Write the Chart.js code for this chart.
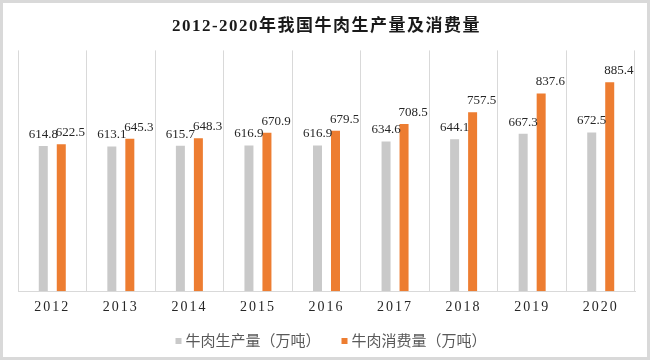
<!DOCTYPE html>
<html>
<head>
<meta charset="utf-8">
<script src="https://cdn.jsdelivr.net/npm/chart.js@4/dist/chart.umd.min.js"></script>
<style>
  html, body { margin: 0; padding: 0; background: #fff; }
  #wrap { width: 650px; height: 360px; }
</style>
</head>
<body>
<div id="wrap"><canvas id="chart" width="650" height="360"></canvas></div>
<script>
const years = ['2012', '2013', '2014', '2015', '2016', '2017', '2018', '2019', '2020'];
const production = [614.8, 613.1, 615.7, 616.9, 616.9, 634.6, 644.1, 667.3, 672.5];
const consumption = [622.5, 645.3, 648.3, 670.9, 679.5, 708.5, 757.5, 837.6, 885.4];

const serif = '"Liberation Serif", "Times New Roman", "Noto Sans CJK SC", serif';
const cjk = '"Noto Sans CJK SC", "Liberation Serif", sans-serif';

// outer frame like the exported picture
const framePlugin = {
    id: 'frame',
    beforeDraw(chart) {
        const ctx = chart.ctx;
        ctx.save();
        ctx.fillStyle = '#ffffff';
        ctx.fillRect(0, 0, chart.width, chart.height);
        ctx.strokeStyle = '#d9d9d9';
        ctx.lineWidth = 3;
        ctx.strokeRect(1.5, 1.5, chart.width - 3, chart.height - 3);
        ctx.restore();
    },
};

// the title and year labels are letter-spaced in the original
function spaced(obj, method, spacing) {
    if (!obj || obj['_sp_' + method]) return;
    const orig = obj[method];
    obj[method] = function (...args) {
        const c = this.ctx;
        c.save();
        c.letterSpacing = spacing;
        orig.apply(this, args);
        c.restore();
    };
    obj['_sp_' + method] = true;
}

const spacingPlugin = {
    id: 'spacing',
    afterLayout(chart) {
        spaced(chart.titleBlock, 'draw', '1.5px');
        spaced(chart.scales.x, 'drawLabels', '2px');
    },
};

// value labels above each bar; the consumption labels start at the bar's
// left edge so they don't run into the production ones
const valueLabels = {
    id: 'valueLabels',
    afterDatasetsDraw(chart) {
        const ctx = chart.ctx;
        ctx.save();
        ctx.font = '13px ' + serif;
        ctx.fillStyle = '#262626';
        ctx.textBaseline = 'bottom';
        chart.data.datasets.forEach((ds, i) => {
            const meta = chart.getDatasetMeta(i);
            meta.data.forEach((bar, j) => {
                const txt = Number(ds.data[j]).toFixed(1);
                if (i === 0) {
                    ctx.textAlign = 'center';
                    ctx.fillText(txt, bar.x, bar.y - 5);
                } else {
                    ctx.textAlign = 'left';
                    ctx.fillText(txt, bar.x - bar.width / 2 - 1, bar.y - 5);
                }
            });
        });
        ctx.restore();
    },
};

// legend drawn by hand: small squares, tight gap to the text
const legendPlugin = {
    id: 'bottomLegend',
    afterDraw(chart) {
        const ctx = chart.ctx;
        const box = 6, gap = 4, itemGap = 21;
        ctx.save();
        ctx.font = '15px ' + cjk;
        ctx.textBaseline = 'middle';
        const items = chart.data.datasets.map((ds) => ({
            text: ds.label,
            color: ds.backgroundColor,
            w: box + gap + ctx.measureText(ds.label).width,
        }));
        const total = items.reduce((s, it) => s + it.w, 0) + itemGap * (items.length - 1);
        let x = 331 - total / 2;
        const y = 340;
        items.forEach((it) => {
            ctx.fillStyle = it.color;
            ctx.fillRect(x, y - box / 2 + 1, box, box);
            ctx.fillStyle = '#595959';
            ctx.fillText(it.text, x + box + gap, y);
            x += it.w + itemGap;
        });
        ctx.restore();
    },
};

new Chart(document.getElementById('chart'), {
    type: 'bar',
    data: {
        labels: years,
        datasets: [
            {
                label: '牛肉生产量（万吨）',
                data: production,
                backgroundColor: '#c9c9c9',
                categoryPercentage: 0.525,
                barPercentage: 0.5,
            },
            {
                label: '牛肉消费量（万吨）',
                data: consumption,
                backgroundColor: '#ed7d31',
                categoryPercentage: 0.525,
                barPercentage: 0.5,
            },
        ],
    },
    options: {
        responsive: false,
        animation: false,
        layout: { padding: { left: 18, right: 15, top: 0, bottom: 36 } },
        plugins: {
            title: {
                display: true,
                text: '2012-2020年我国牛肉生产量及消费量',
                font: { family: serif, size: 17, weight: 'bold' },
                color: '#1a1a1a',
                padding: { top: 16, bottom: 14 },
            },
            legend: { display: false },
            tooltip: { enabled: false },
        },
        scales: {
            x: {
                grid: { offset: true, color: '#d9d9d9', drawTicks: false },
                border: { color: '#d9d9d9' },
                ticks: { color: '#262626', font: { family: serif, size: 14 }, padding: 8 },
            },
            y: {
                display: false,
                min: 0,
                max: 1020,
            },
        },
    },
    plugins: [framePlugin, spacingPlugin, valueLabels, legendPlugin],
});
</script>
</body>
</html>
